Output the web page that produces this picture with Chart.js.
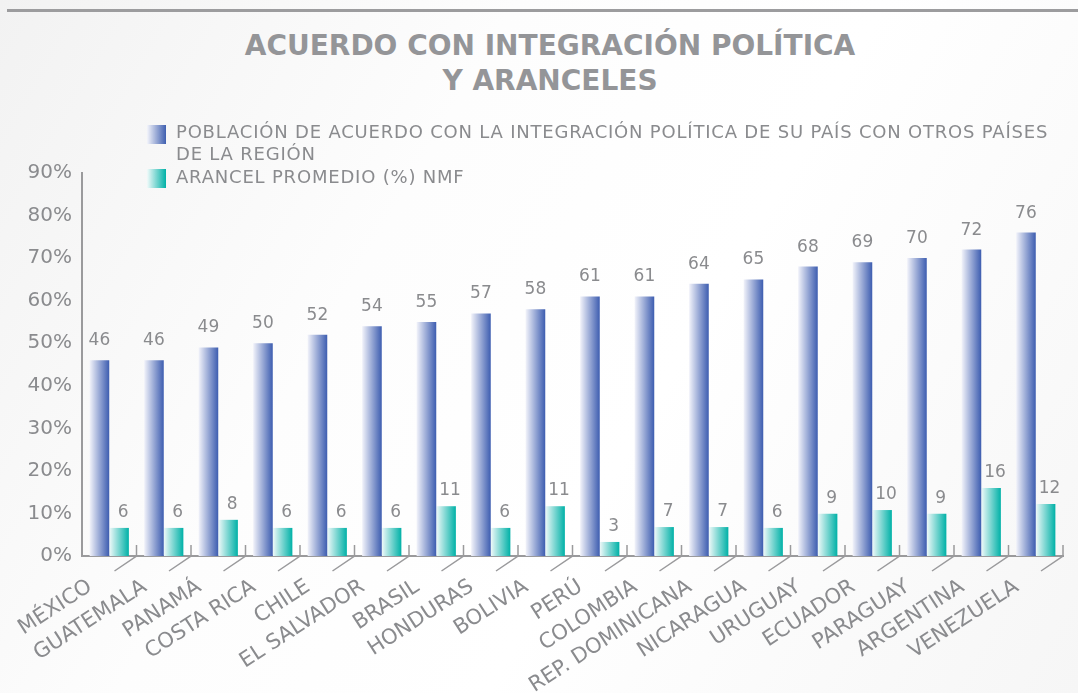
<!DOCTYPE html>
<html lang="es">
<head>
<meta charset="UTF-8">
<title>Acuerdo con integración política y aranceles</title>
<style>
  /* lienzo general */
  body { margin: 0; background: #fbfbfb; font-family: 'DejaVu Sans', sans-serif; }
  .wrap { position: relative; width: 1078px; height: 693px; overflow: hidden;
          background: linear-gradient(120deg, #f2f2f2 0%, #fdfdfd 35%, #ffffff 60%, #f6f6f6 100%); }
  .topline { position: absolute; left: 7px; right: 0; top: 9px; height: 3px; background: #9c9c9e; }
  h1 { position: absolute; top: 28px; left: 0; width: 1100px; margin: 0; text-align: center;
       font-size: 28px; line-height: 35px; font-weight: bold; color: #949598; }
  canvas { position: absolute; left: 0; top: 0; }

  /* leyenda */
  .leg-box { position: absolute; left: 147px; width: 19px; height: 19px; }
  .leg-text { position: absolute; left: 176px; font-size: 18px; line-height: 22px; letter-spacing: 0.8px; color: #8a8b8e; white-space: nowrap; }
</style>
</head>
<body>
<div class="wrap">
  <div class="topline"></div>
  <h1>ACUERDO CON INTEGRACIÓN POLÍTICA<br>Y ARANCELES</h1>
  <canvas id="chart" width="1078" height="693"></canvas>
  <div class="leg-box" style="top:125px;background:linear-gradient(90deg,#f4f5fb,#3f5fb0);"></div>
  <div class="leg-text" style="top:121px;">POBLACIÓN DE ACUERDO CON LA INTEGRACIÓN POLÍTICA DE SU PAÍS CON OTROS PAÍSES<br>DE LA REGIÓN</div>
  <div class="leg-box" style="top:169px;background:linear-gradient(90deg,#f2fafa,#00b1a7);"></div>
  <div class="leg-text" style="top:166px;">ARANCEL PROMEDIO (%) NMF</div>
</div>

<script src="https://cdn.jsdelivr.net/npm/chart.js"></script>
<script>
  // datos
  const paises = ['MÉXICO', 'GUATEMALA', 'PANAMÁ', 'COSTA RICA', 'CHILE', 'EL SALVADOR', 'BRASIL', 'HONDURAS', 'BOLIVIA',
                  'PERÚ', 'COLOMBIA', 'REP. DOMINICANA', 'NICARAGUA', 'URUGUAY', 'ECUADOR', 'PARAGUAY', 'ARGENTINA', 'VENEZUELA'];
  const poblacion = [46, 46, 49, 50, 52, 54, 55, 57, 58, 61, 61, 64, 65, 68, 69, 70, 72, 76];
  const arancel = [6.6, 6.6, 8.5, 6.6, 6.6, 6.6, 11.7, 6.6, 11.7, 3.3, 6.8, 6.8, 6.6, 9.9, 10.8, 9.9, 16.0, 12.2];
  const arancelEtiquetas = ['6', '6', '8', '6', '6', '6', '11', '6', '11', '3', '7', '7', '6', '9', '10', '9', '16', '12'];
  const yTicks = [0, 10, 20, 30, 40, 50, 60, 70, 80, 90];

  const CAT_PCT = 0.72;
  const GRIS = '#8a8b8e';

  // degradado horizontal por barra
  function degradado(c0, c1, serie) {
    return function(c) {
      const ch = c.chart, x = ch.scales.x;
      if (!x || c.dataIndex === undefined) return c1;
      const step = x.width / paises.length;
      const bw = step * CAT_PCT / 2;
      const cx = x.getPixelForValue(c.dataIndex) + (serie === 0 ? -bw / 2 : bw / 2);
      if (!isFinite(cx) || !isFinite(bw) || bw <= 0) return c1;
      const g = ch.ctx.createLinearGradient(cx - bw / 2, 0, cx + bw / 2, 0);
      g.addColorStop(0, c0);
      g.addColorStop(1, c1);
      return g;
    };
  }

  // etiquetas de valor sobre las barras
  const etiquetas = {
    id: 'etiquetas',
    afterDatasetsDraw(chart) {
      const ctx = chart.ctx;
      ctx.save();
      ctx.font = '17px "DejaVu Sans"';
      ctx.fillStyle = GRIS;
      ctx.textAlign = 'center';
      ctx.textBaseline = 'alphabetic';
      chart.getDatasetMeta(0).data.forEach((el, i) => ctx.fillText(String(poblacion[i]), el.x, el.y - 15));
      chart.getDatasetMeta(1).data.forEach((el, i) => ctx.fillText(arancelEtiquetas[i], el.x + 4, el.y - 11));
      ctx.restore();
    }
  };

  // eje x: marcas (vertical + diagonal) y nombres de países inclinados
  const ejeX = {
    id: 'ejeX',
    afterDraw(chart) {
      const { ctx, scales: { x } } = chart;
      const step = x.width / paises.length;
      const y0 = x.top;
      ctx.save();
      ctx.strokeStyle = '#9a9a9c';
      ctx.lineWidth = 1.5;
      for (let i = 0; i < paises.length; i++) {
        const px = x.getPixelForValue(i) + step / 2;
        ctx.beginPath();
        ctx.moveTo(px, y0 - 11);
        ctx.lineTo(px, y0);
        ctx.lineTo(px - 22, y0 + 15);
        ctx.stroke();
      }
      ctx.fillStyle = GRIS;
      ctx.font = '21px "DejaVu Sans"';
      ctx.textAlign = 'right';
      ctx.textBaseline = 'middle';
      paises.forEach((p, i) => {
        ctx.save();
        ctx.translate(x.getPixelForValue(i) - 19, y0 + 29);
        ctx.rotate(-33 * Math.PI / 180);
        ctx.fillText(p, 0, 0);
        ctx.restore();
      });
      ctx.restore();
    }
  };

  new Chart(document.getElementById('chart'), {
    type: 'bar',
    data: {
      labels: paises,
      datasets: [
        { label: 'POBLACIÓN DE ACUERDO CON LA INTEGRACIÓN POLÍTICA DE SU PAÍS CON OTROS PAÍSES DE LA REGIÓN',
          data: poblacion, backgroundColor: degradado('#f2f3fa', '#3d5db0', 0),
          categoryPercentage: CAT_PCT, barPercentage: 1 },
        { label: 'ARANCEL PROMEDIO (%) NMF',
          data: arancel, backgroundColor: degradado('#f0f9f9', '#00b1a7', 1),
          categoryPercentage: CAT_PCT, barPercentage: 1 }
      ]
    },
    options: {
      responsive: false,
      animation: false,
      layout: { padding: { top: 173, right: 15, left: 0, bottom: 0 } },
      plugins: { legend: { display: false }, title: { display: false }, tooltip: { enabled: false } },
      scales: {
        x: {
          grid: { display: false, drawTicks: false },
          border: { display: true, color: '#9a9a9c', width: 2 },
          ticks: { display: false },
          afterFit(s) { s.height = 137; }
        },
        y: {
          min: 0, max: 90,
          afterBuildTicks(s) { s.ticks = yTicks.map(v => ({ value: v })); },
          grid: { display: false, drawTicks: false },
          border: { display: true, color: '#9a9a9c', width: 2 },
          ticks: { color: GRIS, padding: 10, font: { family: 'DejaVu Sans', size: 20 }, callback: v => v + '%' },
          afterFit(s) { s.width = 82; }
        }
      }
    },
    plugins: [etiquetas, ejeX]
  });
</script>
</body>
</html>
